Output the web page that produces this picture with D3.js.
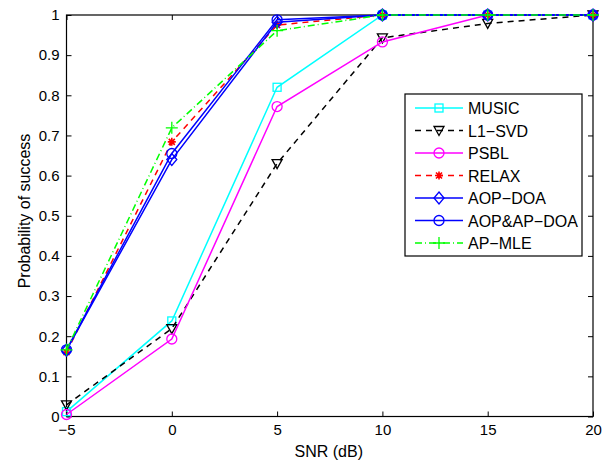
<!DOCTYPE html>
<html lang="en">
<head>
<meta charset="utf-8">
<title>Probability of success vs SNR</title>
<script src="https://d3js.org/d3.v7.min.js"></script>
<style>
  body, html { margin: 0; background: #fff; }
  svg { display: block; font-family: "Liberation Sans", Arial, sans-serif; }
</style>
</head>
<body>
<svg width="614" height="461"></svg>
<script>
// data
var snr = [-5, 0, 5, 10, 15, 20];
var music   = [0.012, 0.238, 0.82, 1, 1, 1];
var l1svd   = [0.029, 0.219, 0.63, 0.943, 0.979, 1];
var psbl    = [0.005, 0.193, 0.772, 0.933, 1, 1];
var relax   = [0.160, 0.684, 0.975, 1, 1, 1];
var aopdoa  = [0.165, 0.640, 0.982, 1, 1, 1];
var aopap   = [0.166, 0.655, 0.988, 1, 1, 1];
var apmle   = [0.166, 0.719, 0.961, 1, 1, 1];
var xTicks = [-5, 0, 5, 10, 15, 20];
var yTicks = [0, 0.1, 0.2, 0.3, 0.4, 0.5, 0.6, 0.7, 0.8, 0.9, 1];

var series = [
  {name: "MUSIC", values: music, color: "#00ffff", dash: null, marker: "square"},
  {name: "L1\u2212SVD", values: l1svd, color: "#000000", dash: "6,5", marker: "tri"},
  {name: "PSBL", values: psbl, color: "#ff00ff", dash: null, marker: "circle"},
  {name: "RELAX", values: relax, color: "#ff0000", dash: "6,5", marker: "star"},
  {name: "AOP\u2212DOA", values: aopdoa, color: "#0000ff", dash: null, marker: "diamond"},
  {name: "AOP&AP\u2212DOA", values: aopap, color: "#0000ff", dash: null, marker: "circle"},
  {name: "AP\u2212MLE", values: apmle, color: "#00ff00", dash: "7,3,1,3", marker: "plus"}
];

var svg = d3.select("svg");
// plot box (window.top is reserved, so no plain "top")
var plotL = 66.5, plotR = 593, plotT = 15, plotB = 416.5;

var x = d3.scaleLinear().domain([-5, 20]).range([plotL, plotR]);
var y = d3.scaleLinear().domain([0, 1]).range([plotB, plotT]);

var fmt = function(d) { return d < 0 ? "\u2212" + Math.abs(d) : String(d); };

// axes with inward ticks (matlab style)
svg.append("g").attr("transform", "translate(0," + plotB + ")")
  .call(d3.axisBottom(x).tickValues(xTicks).tickSize(-5).tickPadding(8).tickFormat(fmt));
svg.append("g").attr("transform", "translate(0," + plotT + ")")
  .call(d3.axisTop(x).tickValues(xTicks).tickSize(-5).tickFormat(""));
svg.append("g").attr("transform", "translate(" + plotL + ",0)")
  .call(d3.axisLeft(y).tickValues(yTicks).tickSize(-5).tickPadding(7).tickFormat(d3.format("")));
svg.append("g").attr("transform", "translate(" + plotR + ",0)")
  .call(d3.axisRight(y).tickValues(yTicks).tickSize(-5).tickFormat(""));

svg.selectAll(".domain").remove();
svg.selectAll(".tick line").attr("stroke", "#000").attr("stroke-width", 1);
svg.selectAll(".tick text").attr("font-size", 15).attr("fill", "#000")
  .attr("font-family", "Liberation Sans, Arial, sans-serif");

svg.append("rect")
  .attr("x", plotL).attr("y", plotT)
  .attr("width", plotR - plotL).attr("height", plotB - plotT)
  .attr("fill", "none").attr("stroke", "#000").attr("stroke-width", 1.2);

svg.append("text")
  .attr("x", x(7.5) - 1).attr("y", 456.5)
  .attr("text-anchor", "middle").attr("font-size", 16)
  .text("SNR (dB)");

svg.append("text")
  .attr("transform", "translate(30,211) rotate(-90)")
  .attr("text-anchor", "middle").attr("font-size", 16)
  .text("Probability of success");

function drawMarker(g, type, color, cx, cy) {
  var m = g.append("g").attr("transform", "translate(" + cx + "," + cy + ")")
    .attr("fill", "none").attr("stroke", color).attr("stroke-width", 1.3);
  if (type == "square") {
    m.append("rect").attr("x", -4).attr("y", -4).attr("width", 8).attr("height", 8);
  } else if (type == "circle") {
    m.append("circle").attr("r", 5);
  } else if (type == "tri") {
    m.append("path").attr("d", "M-5,-4L5,-4L0,5Z");
  } else if (type == "diamond") {
    m.append("path").attr("d", "M0,-6L5,0L0,6L-5,0Z");
  } else if (type == "plus") {
    m.append("path").attr("d", "M-6,0L6,0M0,-6L0,6");
  } else if (type == "star") {
    m.append("path").attr("d", "M-4,0L4,0M0,-4L0,4M-3,-3L3,3M-3,3L3,-3").attr("stroke-width", 1.6);
  }
}

var line = d3.line().x(function(d, i) { return x(snr[i]); }).y(function(d) { return y(d); });

series.forEach(function(s) {
  var g = svg.append("g");
  g.append("path")
    .datum(s.values)
    .attr("d", line)
    .attr("fill", "none")
    .attr("stroke", s.color)
    .attr("stroke-width", 1.5)
    .attr("stroke-dasharray", s.dash);
  s.values.forEach(function(v, i) {
    drawMarker(g, s.marker, s.color, x(snr[i]), y(v));
  });
});

// legend
var lg = svg.append("g");
lg.append("rect")
  .attr("x", 405).attr("y", 94).attr("width", 177).attr("height", 162)
  .attr("fill", "#fff").attr("stroke", "#000").attr("stroke-width", 1.2);

series.forEach(function(s, i) {
  var ly = 108 + i * 22.5;
  lg.append("path")
    .attr("d", "M415," + ly + "L463," + ly)
    .attr("stroke", s.color).attr("stroke-width", 1.5)
    .attr("stroke-dasharray", s.dash);
  drawMarker(lg, s.marker, s.color, 439, ly);
  lg.append("text")
    .attr("x", 468).attr("y", ly + 6)
    .attr("font-size", 16)
    .text(s.name);
});
</script>
</body>
</html>
